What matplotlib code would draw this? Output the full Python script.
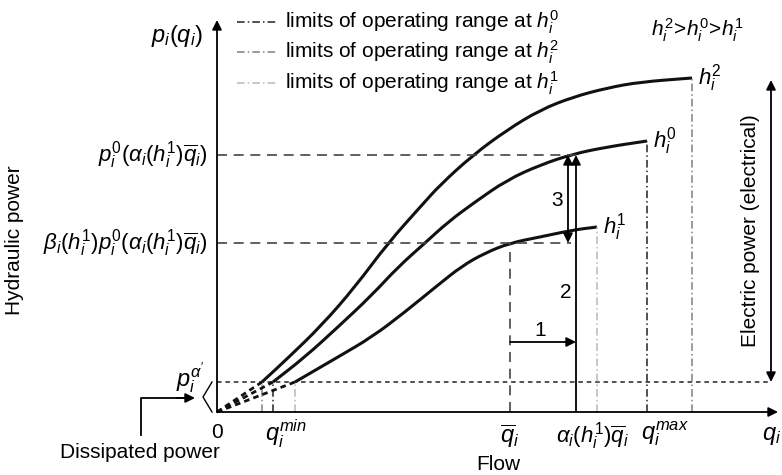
import matplotlib.pyplot as plt
from matplotlib.path import Path
from matplotlib.patches import PathPatch

plt.rcParams['font.family'] = ['Liberation Sans', 'DejaVu Sans']
plt.rcParams['mathtext.fontset'] = 'custom'
plt.rcParams['mathtext.rm'] = 'Liberation Sans'
plt.rcParams['mathtext.it'] = 'Liberation Sans:italic'

# flow / power (arbitrary units)
flow_h2 = [45, 71, 105, 138, 171, 205, 223, 256, 290, 323, 356, 390, 423, 475]
power_h2 = [30, 54, 87, 125, 169, 207, 227, 257, 282, 302, 315, 324, 330, 334]
flow_h0 = [56, 88, 121, 155, 181, 208, 231, 258, 290, 323, 356, 390, 430]
power_h0 = [30, 55, 85, 117, 145, 169, 190, 210, 232, 247, 258, 265, 271]
flow_h1 = [78, 121, 155, 188, 221, 245, 268, 293, 323, 356, 380]
power_h1 = [30, 55, 75, 100, 127, 146, 159, 169, 175, 182, 185]

curve_names = [r'$h_i^2$', r'$h_i^0$', r'$h_i^1$']
limit_colors = ['#808080', '#222222', '#b8b8b8']

p_top = 257        # p_i^0(alpha_i(h_i^1) qbar_i)
p_beta = 169       # beta_i(h_i^1) p_i^0(...)
p_alpha = 30       # p_i^alpha'
q_bar = 293
q_alpha = 359
x_end = 561
y_end = 392
elec_x = 554


def smooth_path(xs, ys):
    # quadratic bezier pieces through the midpoints, so the polyline corners are rounded
    pts = list(zip(xs, ys))
    verts = [pts[0]]
    codes = [Path.MOVETO]
    mid = ((pts[0][0] + pts[1][0]) / 2, (pts[0][1] + pts[1][1]) / 2)
    verts.append(mid)
    codes.append(Path.LINETO)
    for i in range(1, len(pts) - 1):
        nxt = ((pts[i][0] + pts[i + 1][0]) / 2, (pts[i][1] + pts[i + 1][1]) / 2)
        verts += [pts[i], nxt]
        codes += [Path.CURVE3, Path.CURVE3]
    verts.append(pts[-1])
    codes.append(Path.LINETO)
    return Path(verts, codes)


fig = plt.figure(figsize=(7.82, 4.75), dpi=100)
ax = fig.add_axes([0, 0, 1, 1])
ax.set_xlim(-217, 565)
ax.set_ylim(-63, 412)
ax.axis('off')

arrow = dict(arrowstyle='-|>', color='black', lw=1.3, mutation_scale=14, shrinkA=0, shrinkB=0)
darrow = dict(arrowstyle='<|-|>', color='black', lw=1.3, mutation_scale=14, shrinkA=0, shrinkB=0)

# axes
ax.annotate('', xy=(0, y_end), xytext=(0, 0), arrowprops=arrow)
ax.annotate('', xy=(x_end, 0), xytext=(0, 0), arrowprops=arrow)

# reference levels
ax.plot([0, q_alpha], [p_top, p_top], color='#444444', lw=1.2, ls=(0, (6, 4)))
ax.plot([0, q_alpha - 5], [p_beta, p_beta], color='#444444', lw=1.2, ls=(0, (6, 4)))
ax.plot([q_bar, q_bar], [0, p_beta], color='#444444', lw=1.2, ls=(0, (6, 4)))
ax.plot([0, elec_x], [p_alpha, p_alpha], color='#222222', lw=1.1, ls=(0, (3, 2.5)))

# curves
flows = [flow_h2, flow_h0, flow_h1]
powers = [power_h2, power_h0, power_h1]
for fl, pw, name, c in zip(flows, powers, curve_names, limit_colors):
    ax.add_patch(PathPatch(smooth_path(fl, pw), facecolor='none', edgecolor='#111111',
                           lw=2.2, capstyle='butt'))
    ax.plot([0, fl[0]], [0, pw[0]], color='#111111', lw=2, ls=(0, (2, 1.5)))
    ax.plot([fl[0], fl[0]], [0, pw[0]], color=c, lw=1.1, ls=(0, (5, 2, 1, 2)))
    ax.plot([fl[-1], fl[-1]], [0, pw[-1]], color=c, lw=1.1, ls=(0, (5, 2, 1, 2)))
    ax.text(fl[-1] + 6, pw[-1], name, fontsize=16, va='center', ha='left')

# arrows 1, 2, 3 and electric power
ax.annotate('', xy=(q_alpha, p_top), xytext=(q_alpha, 0), arrowprops=arrow)
ax.annotate('', xy=(q_alpha, 70), xytext=(q_bar, 70), arrowprops=arrow)
ax.annotate('', xy=(q_alpha - 8, p_beta), xytext=(q_alpha - 8, p_top), arrowprops=darrow)
ax.annotate('', xy=(elec_x, p_alpha), xytext=(elec_x, 332), arrowprops=darrow)
ax.text(323, 82, '1', fontsize=15, ha='center', va='center')
ax.text(349, 119, '2', fontsize=15, ha='center', va='center')
ax.text(340, 212, '3', fontsize=15, ha='center', va='center')
ax.text(534, 181, 'Electric power (electrical)', fontsize=15, rotation=90, ha='center', va='center')

# legend
legend_y = [390, 360, 329]
legend_txt = [r'limits of operating range at $h_i^0$', r'limits of operating range at $h_i^2$',
              r'limits of operating range at $h_i^1$']
legend_col = ['#222222', '#808080', '#b8b8b8']
for ly, lt, lc in zip(legend_y, legend_txt, legend_col):
    ax.plot([20, 60], [ly, ly], color=lc, lw=1.1, ls=(0, (5, 2, 1, 2)))
    ax.text(68, ly, lt, fontsize=15, va='center', ha='left')
ax.text(480, 382, r'$h_i^2\!>\!h_i^0\!>\!h_i^1$', fontsize=15, ha='center', va='center')

# y labels
ax.text(-14, 376, r'$p_i(q_i)$', fontsize=17, ha='right', va='center')
ax.text(-9, p_top, r'$p_i^0(\alpha_i(h_i^1)\overline{q}_i)$', fontsize=16, ha='right', va='center')
ax.text(-9, p_beta, r'$\beta_i(h_i^1)p_i^0(\alpha_i(h_i^1)\overline{q}_i)$', fontsize=16,
        ha='right', va='center')
ax.text(-12, 34, r"$p_i^{\alpha'}$", fontsize=17, ha='right', va='center')
ax.plot([-5, -14, -5], [p_alpha, p_alpha / 2, 0], color='black', lw=1)
ax.plot([-76, -76, -30], [-23, 14, 14], color='black', lw=1.3)
ax.annotate('', xy=(-22, 14), xytext=(-40, 14), arrowprops=arrow)
ax.text(-77, -40, 'Dissipated power', fontsize=15, ha='center', va='center')
ax.text(-202, 172, 'Hydraulic power', fontsize=15, rotation=90, ha='center', va='center')

# x labels
ax.text(0, -20, '0', fontsize=15, ha='center', va='center')
ax.text(69, -22, r'$q_i^{min}$', fontsize=17, ha='center', va='center')
ax.text(q_bar, -24, r'$\overline{q}_i$', fontsize=17, ha='center', va='center')
ax.text(376, -24, r'$\alpha_i(h_i^1)\overline{q}_i$', fontsize=16, ha='center', va='center')
ax.text(448, -22, r'$q_i^{max}$', fontsize=17, ha='center', va='center')
ax.text(564, -24, r'$q_i$', fontsize=17, ha='right', va='center')
ax.text(281, -52, 'Flow', fontsize=15, ha='center', va='center')

fig.savefig('out.png', dpi=100)
